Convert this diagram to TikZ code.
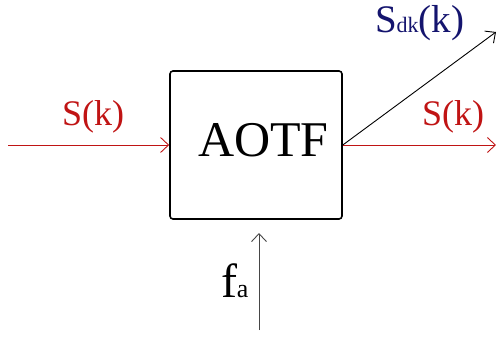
\documentclass[tikz,border=0pt]{standalone}
\usepackage{fontspec}
\setmainfont{Liberation Serif}
\usetikzlibrary{arrows.meta}
\definecolor{sigred}{RGB}{192,20,20}
\definecolor{navy}{RGB}{20,20,110}
\definecolor{arrgray}{RGB}{70,70,70}
\tikzset{
  conn/.style={line width=0.9pt,-{Straight Barb[length=8pt,width=15pt,line width=0.9pt]}},
  lbl/.style={anchor=base west,inner sep=0pt,outer sep=0pt},
  blk/.style={draw=black,line width=1.6pt,rounded corners=3pt,minimum width=172pt,minimum height=148pt,inner sep=0pt}
}
\newcommand{\fsz}[2]{{\fontsize{#1}{#1}\selectfont #2}}
\begin{document}
\begin{tikzpicture}[x=1pt,y=-1pt]
\useasboundingbox (0,0) rectangle (496,337);
\node[blk] (aotf) at (256,145) {};
\node[lbl] (aotftxt) at (198,157) {\fsz{50pt}{AOTF}};
\coordinate (in) at (8,145);
\coordinate (out) at (496,145);
\coordinate (dk) at (496,32);
\coordinate (fa0) at (259,330);
\coordinate (fa1) at (259,233);
\draw[conn,sigred] (in) -- (aotf.west);
\draw[conn,sigred] (aotf.east) -- (out);
\draw[conn,black] (aotf.east) -- (dk);
\draw[conn,arrgray] (fa0) -- (fa1);
\node[lbl,text=sigred] (sin) at (62,126) {\fsz{36pt}{S(k)}};
\node[lbl,text=sigred] (sout) at (422,126) {\fsz{36pt}{S(k)}};
\node[lbl,text=navy] (sdk) at (375,33) {\fsz{39pt}{S}\fsz{22pt}{dk}\fsz{39pt}{(k)}};
\node[lbl] (fa) at (221,297) {\fsz{48pt}{f}\fsz{26pt}{a}};
\end{tikzpicture}
\end{document}
